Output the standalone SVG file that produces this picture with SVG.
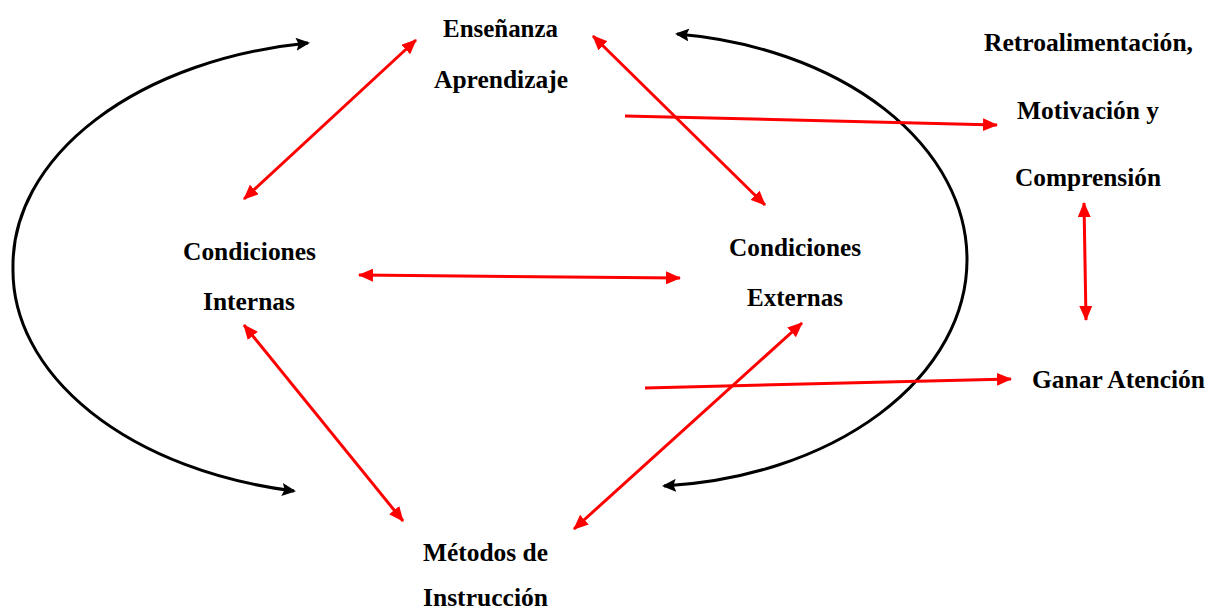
<svg xmlns="http://www.w3.org/2000/svg" width="1219" height="612" viewBox="0 0 1219 612">
  <style>
    .lbl { font-family: "Liberation Serif", "Times New Roman", serif; font-weight: bold; font-size: 26px; fill: #000; }
    .red { stroke: #ff0000; stroke-width: 3; fill: none; }
    .blk { stroke: #000; stroke-width: 3; fill: none; }
  </style>
  <defs>
    <marker id="rh" markerUnits="userSpaceOnUse" viewBox="0 0 15 13" refX="14" refY="6.5" markerWidth="15" markerHeight="13" orient="auto-start-reverse">
      <path d="M0,0 L15,6.5 L0,13 z" fill="#ff0000"/>
    </marker>
    <marker id="bh" markerUnits="userSpaceOnUse" viewBox="0 0 14 13" refX="12" refY="6.5" markerWidth="14" markerHeight="13" orient="auto-start-reverse">
      <path d="M0,0 L14,6.5 L0,13 L2.5,6.5 z" fill="#000"/>
    </marker>
  </defs>
  <rect width="1219" height="612" fill="#fff"/>

  <g id="connectors">
    <path class="blk" d="M 308 43 A 347 225 0 0 0 13 267 A 347 225 0 0 0 294 491" marker-start="url(#bh)" marker-end="url(#bh)"/>
    <path class="blk" d="M 677 34 A 329 227 0 0 1 967 260 A 329 227 0 0 1 664 486" marker-start="url(#bh)" marker-end="url(#bh)"/>
    <line class="red" x1="416" y1="40" x2="244" y2="199" marker-start="url(#rh)" marker-end="url(#rh)"/>
    <line class="red" x1="593" y1="36" x2="765" y2="205" marker-start="url(#rh)" marker-end="url(#rh)"/>
    <line class="red" x1="625" y1="116" x2="997" y2="125" marker-end="url(#rh)"/>
    <line class="red" x1="359" y1="275" x2="680" y2="278" marker-start="url(#rh)" marker-end="url(#rh)"/>
    <line class="red" x1="1084" y1="203" x2="1086" y2="320" marker-start="url(#rh)" marker-end="url(#rh)"/>
    <line class="red" x1="244" y1="325" x2="403" y2="521" marker-start="url(#rh)" marker-end="url(#rh)"/>
    <line class="red" x1="802" y1="323" x2="574" y2="529" marker-start="url(#rh)" marker-end="url(#rh)"/>
    <line class="red" x1="645" y1="388" x2="1011" y2="379" marker-end="url(#rh)"/>
  </g>

  <g id="node-ensenanza">
    <text class="lbl" x="443" y="37" textLength="115" lengthAdjust="spacingAndGlyphs">Enseñanza</text>
    <text class="lbl" x="434" y="88" textLength="134" lengthAdjust="spacingAndGlyphs">Aprendizaje</text>
  </g>
  <g id="node-internas">
    <text class="lbl" x="183" y="260" textLength="133" lengthAdjust="spacingAndGlyphs">Condiciones</text>
    <text class="lbl" x="203" y="310" textLength="92" lengthAdjust="spacingAndGlyphs">Internas</text>
  </g>
  <g id="node-externas">
    <text class="lbl" x="729" y="256" textLength="132" lengthAdjust="spacingAndGlyphs">Condiciones</text>
    <text class="lbl" x="747" y="306" textLength="96" lengthAdjust="spacingAndGlyphs">Externas</text>
  </g>
  <g id="node-retro">
    <text class="lbl" x="984" y="51" textLength="209" lengthAdjust="spacingAndGlyphs">Retroalimentación,</text>
    <text class="lbl" x="1017" y="119" textLength="142" lengthAdjust="spacingAndGlyphs">Motivación y</text>
    <text class="lbl" x="1015" y="186" textLength="146" lengthAdjust="spacingAndGlyphs">Comprensión</text>
  </g>
  <g id="node-ganar">
    <text class="lbl" x="1032" y="388" textLength="173" lengthAdjust="spacingAndGlyphs">Ganar Atención</text>
  </g>
  <g id="node-metodos">
    <text class="lbl" x="423" y="561" textLength="125" lengthAdjust="spacingAndGlyphs">Métodos de</text>
    <text class="lbl" x="423" y="606" textLength="125" lengthAdjust="spacingAndGlyphs">Instrucción</text>
  </g>
</svg>
